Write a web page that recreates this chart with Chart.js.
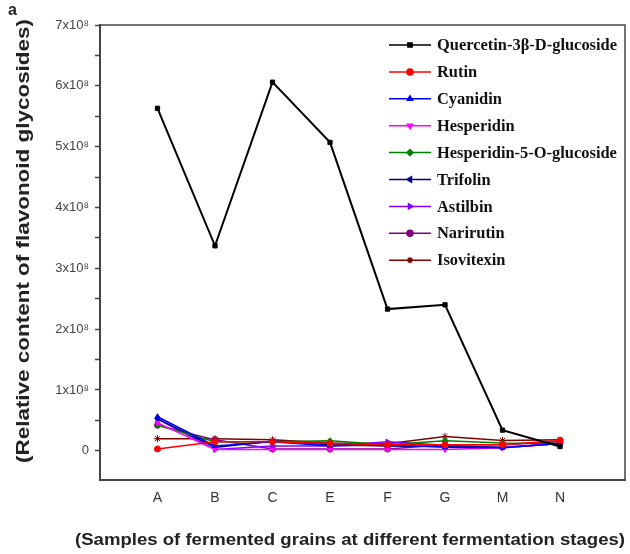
<!DOCTYPE html>
<html>
<head>
<meta charset="utf-8">
<script src="https://cdn.jsdelivr.net/npm/chart.js@4.4.1/dist/chart.umd.min.js"></script>
<style>
  html, body { margin: 0; padding: 0; background: #fff; }
  #wrap { width: 630px; height: 554px; position: relative; }
</style>
</head>
<body>
<div id="wrap"><canvas id="chart" width="630" height="554"></canvas></div>
<script>
// === DATA ===
const samples = ["A", "B", "C", "E", "F", "G", "M", "N"];
const yTickValues = [0, 1e8, 2e8, 3e8, 4e8, 5e8, 6e8, 7e8];

const quercetin   = [5.63e8, 3.37e8, 6.06e8, 5.07e8, 2.33e8, 2.40e8, 0.34e8, 0.07e8];
const rutin       = [0.03e8, 0.15e8, 0.15e8, 0.12e8, 0.10e8, 0.10e8, 0.10e8, 0.17e8];
const cyanidin    = [0.56e8, 0.08e8, 0.15e8, 0.08e8, 0.10e8, 0.06e8, 0.05e8, 0.12e8];
const hesperidin  = [0.46e8, 0.02e8, 0.02e8, 0.02e8, 0.02e8, 0.02e8, 0.05e8, 0.12e8];
const hesp5og     = [0.42e8, 0.15e8, 0.15e8, 0.165e8, 0.10e8, 0.165e8, 0.13e8, 0.12e8];
const trifolin    = [0.53e8, 0.055e8, 0.16e8, 0.10e8, 0.08e8, 0.07e8, 0.06e8, 0.12e8];
const astilbin    = [0.52e8, 0.02e8, 0.08e8, 0.08e8, 0.15e8, 0.09e8, 0.05e8, 0.12e8];
const narirutin   = [0.42e8, 0.18e8, 0.03e8, 0.03e8, 0.03e8, 0.10e8, 0.10e8, 0.15e8];
const isovitexin  = [0.20e8, 0.20e8, 0.18e8, 0.13e8, 0.115e8, 0.235e8, 0.17e8, 0.18e8];

const series = [
  { label: "Quercetin-3β-D-glucoside", data: quercetin, color: "#000000", style: "rect", rot: 0, width: 2 },
  { label: "Rutin", data: rutin, color: "#ff0000", style: "circle", rot: 0, width: 1.5 },
  { label: "Cyanidin", data: cyanidin, color: "#0000ff", style: "triangle", rot: 0, width: 1.5 },
  { label: "Hesperidin", data: hesperidin, color: "#ff00ff", style: "triangle", rot: 180, width: 1.5 },
  { label: "Hesperidin-5-O-glucoside", data: hesp5og, color: "#008000", style: "rectRot", rot: 0, width: 1.5 },
  { label: "Trifolin", data: trifolin, color: "#000080", style: "triangle", rot: -90, width: 1.5 },
  { label: "Astilbin", data: astilbin, color: "#8000ff", style: "triangle", rot: 90, width: 1.5 },
  { label: "Narirutin", data: narirutin, color: "#800080", style: "circle", rot: 0, width: 1.5 },
  { label: "Isovitexin", data: isovitexin, color: "#800000", style: "star", rot: 0, width: 1.5 }
];

function fmtTick(v) {
  if (v === 0) return "0";
  return Math.round(v / 1e8) + "x10⁸";
}

// draw text stretched to a target length
function fitText(ctx, text, x, y, target) {
  const w = ctx.measureText(text).width;
  ctx.save();
  ctx.translate(x, y);
  ctx.scale(target / w, 1);
  ctx.fillText(text, 0, 0);
  ctx.restore();
}

// === PLUGIN: frame, titles, legend ===
const decorPlugin = {
  id: "decor",
  afterDraw(chart) {
    const ctx = chart.ctx;
    const a = chart.chartArea;
    ctx.save();
    // frame top + right
    ctx.strokeStyle = "#444";
    ctx.lineWidth = 1.5;
    ctx.beginPath();
    ctx.moveTo(a.left, a.top);
    ctx.lineTo(a.right, a.top);
    ctx.lineTo(a.right, a.bottom);
    ctx.stroke();

    // panel letter
    ctx.fillStyle = "#222";
    ctx.font = "bold 16px 'Liberation Sans', Arial, sans-serif";
    ctx.textAlign = "left";
    ctx.textBaseline = "middle";
    ctx.fillText("a", 8, 11);

    // y title
    ctx.save();
    ctx.translate(24, 241);
    ctx.rotate(-Math.PI / 2);
    ctx.textAlign = "center";
    ctx.font = "bold 18px 'Liberation Sans', Arial, sans-serif";
    fitText(ctx, "(Relative content of flavonoid glycosides)", 0, 0, 444);
    ctx.restore();

    // x title
    ctx.textAlign = "center";
    ctx.font = "bold 17px 'Liberation Sans', Arial, sans-serif";
    fitText(ctx, "(Samples of fermented grains at different fermentation stages)", 350, 540, 550);

    // legend
    const x0 = 389, x1 = 431, tx = 437, y0 = 45, dy = 26.9;
    ctx.font = "bold 16px 'Liberation Serif', 'Times New Roman', serif";
    const k = 180 / ctx.measureText(chart.data.datasets[0].label).width;
    chart.data.datasets.forEach((ds, i) => {
      const y = y0 + i * dy;
      ctx.strokeStyle = ds.borderColor;
      ctx.lineWidth = 1.5;
      ctx.beginPath();
      ctx.moveTo(x0, y);
      ctx.lineTo(x1, y);
      ctx.stroke();
      if (Chart.helpers && Chart.helpers.drawPoint) {
        ctx.fillStyle = ds.pointBackgroundColor;
        ctx.strokeStyle = ds.pointBorderColor;
        Chart.helpers.drawPoint(ctx, {
          pointStyle: ds.pointStyle, rotation: ds.pointRotation,
          radius: 3, borderWidth: 1
        }, (x0 + x1) / 2, y);
      }
      ctx.fillStyle = "#111";
      ctx.textAlign = "left";
      ctx.textBaseline = "middle";
      ctx.save();
      ctx.translate(tx, y + 1);
      ctx.scale(k, 1);
      ctx.fillText(ds.label, 0, 0);
      ctx.restore();
    });
    ctx.restore();
  }
};

const ctx = document.getElementById("chart").getContext("2d");
new Chart(ctx, {
  type: "line",
  data: {
    datasets: series.map(s => ({
      label: s.label,
      data: s.data.map((v, i) => ({ x: i + 1, y: v })),
      borderColor: s.color,
      backgroundColor: s.color,
      pointBackgroundColor: s.color,
      pointBorderColor: s.color,
      pointStyle: s.style,
      pointRotation: s.rot,
      pointRadius: s.style === "star" ? 3.5 : 3,
      pointBorderWidth: 1,
      borderWidth: s.width,
      tension: 0
    }))
  },
  options: {
    responsive: false,
    animation: false,
    layout: { padding: { left: 0, top: 25, right: 5, bottom: 0 } },
    plugins: { legend: { display: false }, tooltip: { enabled: false } },
    scales: {
      x: {
        type: "linear",
        min: 0,
        max: 9.13,
        afterBuildTicks: (axis) => { axis.ticks = samples.map((s, i) => ({ value: i + 1 })); },
        afterFit: (axis) => { axis.height = 74; },
        ticks: {
          callback: (v) => samples[v - 1] || "",
          color: "#333",
          font: { size: 14, family: "'Liberation Sans', Arial, sans-serif" },
          padding: 10,
          maxRotation: 0
        },
        grid: { drawOnChartArea: false, tickLength: 0 },
        border: { color: "#444", width: 2 }
      },
      y: {
        min: -0.48e8,
        max: 7e8,
        afterBuildTicks: (axis) => {
          const t = [];
          for (let k = 0; k <= 14; k++) t.push({ value: k * 0.5e8 });
          axis.ticks = t;
        },
        afterFit: (axis) => { axis.width = 100; },
        ticks: {
          callback: (v) => (yTickValues.includes(v) ? fmtTick(v) : ""),
          color: "#444",
          font: { size: 13, family: "'Liberation Sans', Arial, sans-serif" },
          padding: 6
        },
        grid: { drawOnChartArea: false, tickLength: 5, tickColor: "#444", tickWidth: 1.5 },
        border: { color: "#444", width: 2 }
      }
    }
  },
  plugins: [decorPlugin]
});
</script>
</body>
</html>
